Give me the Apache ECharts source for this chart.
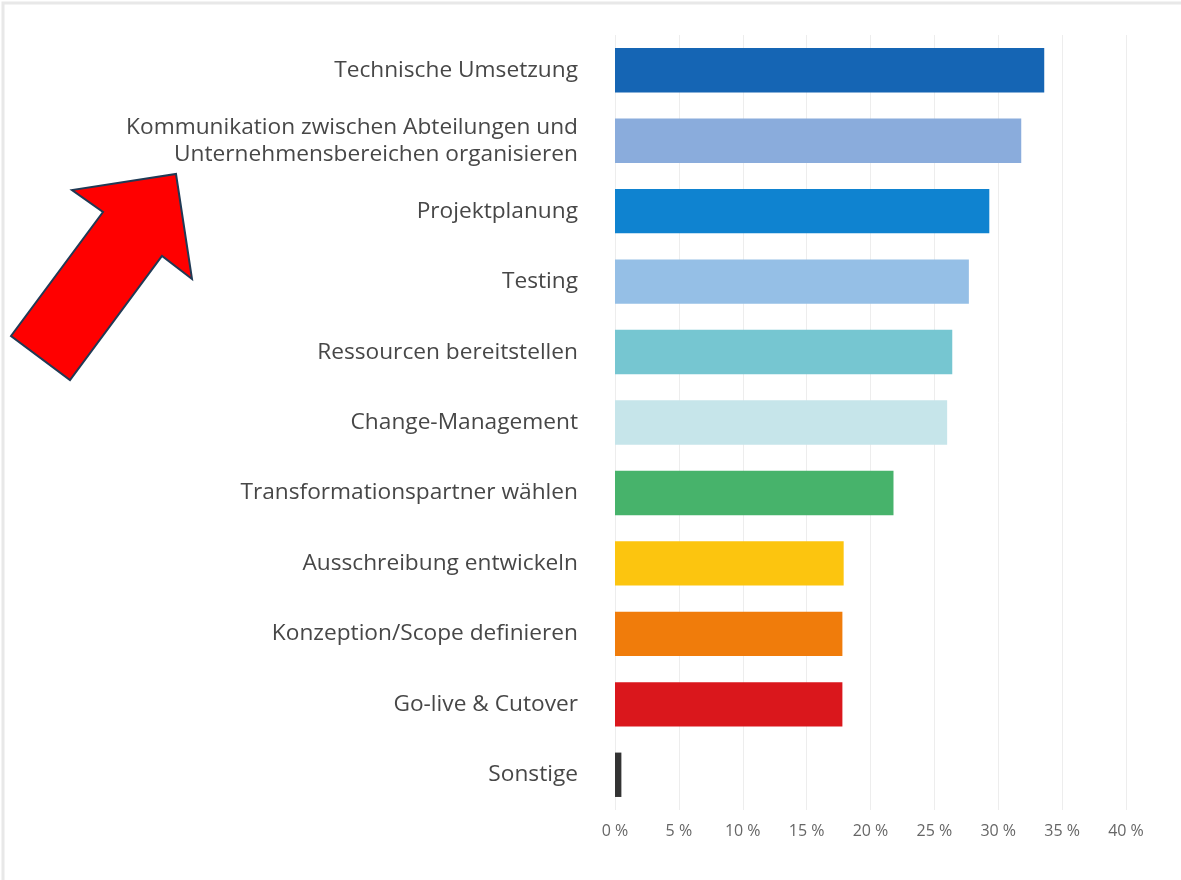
<!DOCTYPE html>
<html>
<head>
<meta charset="utf-8">
<script src="https://cdn.jsdelivr.net/npm/echarts@6/dist/echarts.min.js"></script>
<style>
html,body{margin:0;padding:0;background:#fff;}
#chart{width:1181px;height:880px;}
</style>
</head>
<body>
<div id="chart"></div>
<script>
const categories = [
  "Technische Umsetzung",
  "Kommunikation zwischen Abteilungen und\nUnternehmensbereichen organisieren",
  "Projektplanung",
  "Testing",
  "Ressourcen bereitstellen",
  "Change-Management",
  "Transformationspartner wählen",
  "Ausschreibung entwickeln",
  "Konzeption/Scope definieren",
  "Go-live & Cutover",
  "Sonstige"
];
const values = [33.6, 31.8, 29.3, 27.7, 26.4, 26.0, 21.8, 17.9, 17.8, 17.8, 0.5];
const barColors = ["#1565b4", "#8aacdc", "#0f83d0", "#95bfe6", "#76c6d1", "#c6e5ea", "#47b36b", "#fcc50f", "#f07c0b", "#da171c", "#333333"];
const xTicks = [0, 5, 10, 15, 20, 25, 30, 35, 40];

const chart = echarts.init(document.getElementById('chart'));
chart.setOption({
  animation: false,
  backgroundColor: '#ffffff',
  grid: { left: 615, right: 55, top: 35, bottom: 70, containLabel: false },
  xAxis: {
    type: 'value',
    min: xTicks[0],
    max: xTicks[xTicks.length - 1],
    interval: 5,
    axisLine: { show: false },
    axisTick: { show: false },
    splitLine: { show: true, lineStyle: { color: '#ededed', width: 1 } },
    axisLabel: {
      formatter: v => v + ' %',
      color: '#666666',
      fontSize: 16,
      fontFamily: 'Open Sans',
      margin: 13
    }
  },
  yAxis: {
    type: 'category',
    inverse: true,
    data: categories,
    axisLine: { show: false },
    axisTick: { show: false },
    axisLabel: {
      color: '#474747',
      fontSize: 22.7,
      fontFamily: 'Open Sans',
      margin: 37,
      lineHeight: 27,
      align: 'right'
    }
  },
  series: [{
    type: 'bar',
    data: values.map((v, i) => ({ value: v, itemStyle: { color: barColors[i] } })),
    barCategoryGap: '37%'
  }],
  graphic: [
    {
      type: 'rect',
      shape: { x: 3, y: 3, width: 1200, height: 900 },
      style: { fill: 'none', stroke: '#e8e8e8', lineWidth: 3 },
      silent: true
    },
    {
      type: 'polygon',
      shape: {
        points: [[176, 174], [192, 279], [162, 256], [70, 380], [11, 336], [103, 212], [72, 190]]
      },
      style: { fill: '#ff0000', stroke: '#203a55', lineWidth: 2 },
      z: 100
    }
  ]
});
</script>
</body>
</html>
